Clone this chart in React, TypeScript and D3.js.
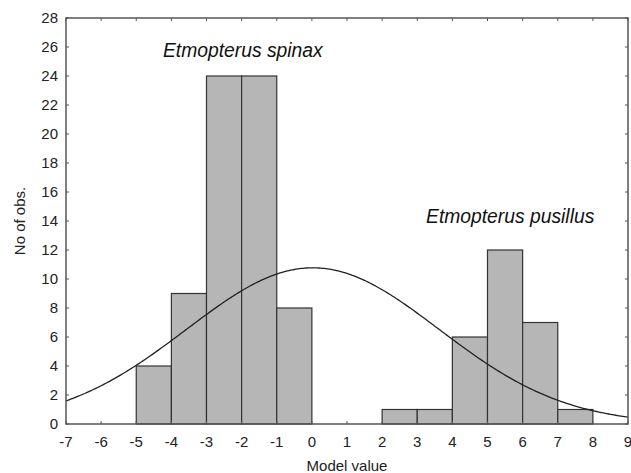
import { useEffect } from 'react'
import * as d3 from 'd3'

// histogram bins (lower edge, upper edge, count)
const binStarts = [-5, -4, -3, -2, -1, 2, 3, 4, 5, 6, 7]
const binEnds = [-4, -3, -2, -1, 0, 3, 4, 5, 6, 7, 8]
const binCounts = [4, 9, 24, 24, 8, 1, 1, 6, 12, 7, 1]

const xTicks = d3.range(-7, 10)
const yTicks = d3.range(0, 29, 2)

const W = 631
const H = 473
const margin = { top: 18, right: 3, bottom: 49, left: 66 }

export default function App() {
  useEffect(() => {
    document.body.style.margin = '0'
  }, [])

  const iw = W - margin.left - margin.right
  const ih = H - margin.top - margin.bottom

  const x = d3.scaleLinear().domain([-7, 9]).range([0, iw])
  const y = d3.scaleLinear().domain([0, 28]).range([ih, 0])

  // fitted normal curve from binned data
  const n = d3.sum(binCounts)
  const mids = binStarts.map((s, i) => (s + binEnds[i]) / 2)
  const mean = d3.sum(mids, (m, i) => m * binCounts[i]) / n
  const variance = d3.sum(mids, (m, i) => (m - mean) ** 2 * binCounts[i]) / n
  const sd = Math.sqrt(variance)
  const curveXs = d3.range(-7, 9.001, 0.05)
  const normal = (v: number) => n / (sd * Math.sqrt(2 * Math.PI)) * Math.exp(-((v - mean) ** 2) / (2 * sd * sd))
  const line = d3.line<number>().x(v => x(v)).y(v => y(normal(v)))

  const tickLen = 3
  const font = 'Liberation Sans, Arial, sans-serif'

  return (
    <svg width={W} height={H} style={{ display: 'block', background: '#fff' }} fontFamily={font}>
      <g transform={`translate(${margin.left},${margin.top})`}>
        {binCounts.map((c, i) => (
          <rect
            key={i}
            x={x(binStarts[i])}
            y={y(c)}
            width={x(binEnds[i]) - x(binStarts[i])}
            height={y(0) - y(c)}
            fill="#b6b6b6"
            stroke="#333"
            strokeWidth={1.2}
          />
        ))}
        <path d={line(curveXs) ?? ''} fill="none" stroke="#222" strokeWidth={1.3} />

        {/* frame */}
        <rect x={0} y={0} width={iw} height={ih} fill="none" stroke="#555" strokeWidth={1.5} />

        {/* x ticks (bottom + top, inward) */}
        {xTicks.map(t => (
          <g key={`x${t}`}>
            <line x1={x(t)} x2={x(t)} y1={ih} y2={ih - tickLen} stroke="#555" />
            <line x1={x(t)} x2={x(t)} y1={0} y2={tickLen} stroke="#555" />
            <text x={x(t)} y={ih + 23} textAnchor="middle" fontSize={15} fill="#222">
              {t}
            </text>
          </g>
        ))}

        {/* y ticks (left + right, inward) */}
        {yTicks.map(t => (
          <g key={`y${t}`}>
            <line x1={0} x2={tickLen} y1={y(t)} y2={y(t)} stroke="#555" />
            <line x1={iw} x2={iw - tickLen} y1={y(t)} y2={y(t)} stroke="#555" />
            <text x={-8} y={y(t)} dy="0.36em" textAnchor="end" fontSize={15} fill="#222">
              {t}
            </text>
          </g>
        ))}

        <text x={iw / 2} y={ih + 47} textAnchor="middle" fontSize={15} fill="#222">
          Model value
        </text>
        <text
          transform={`translate(${-41},${ih / 2}) rotate(-90)`}
          textAnchor="middle"
          fontSize={15}
          fill="#222"
        >
          No of obs.
        </text>

        <text x={x(-4.24)} y={y(25.3)} fontSize={19.3} fontStyle="italic" fill="#111">
          Etmopterus spinax
        </text>
        <text x={x(3.25)} y={y(13.86)} fontSize={19.3} fontStyle="italic" fill="#111">
          Etmopterus pusillus
        </text>
      </g>
    </svg>
  )
}
